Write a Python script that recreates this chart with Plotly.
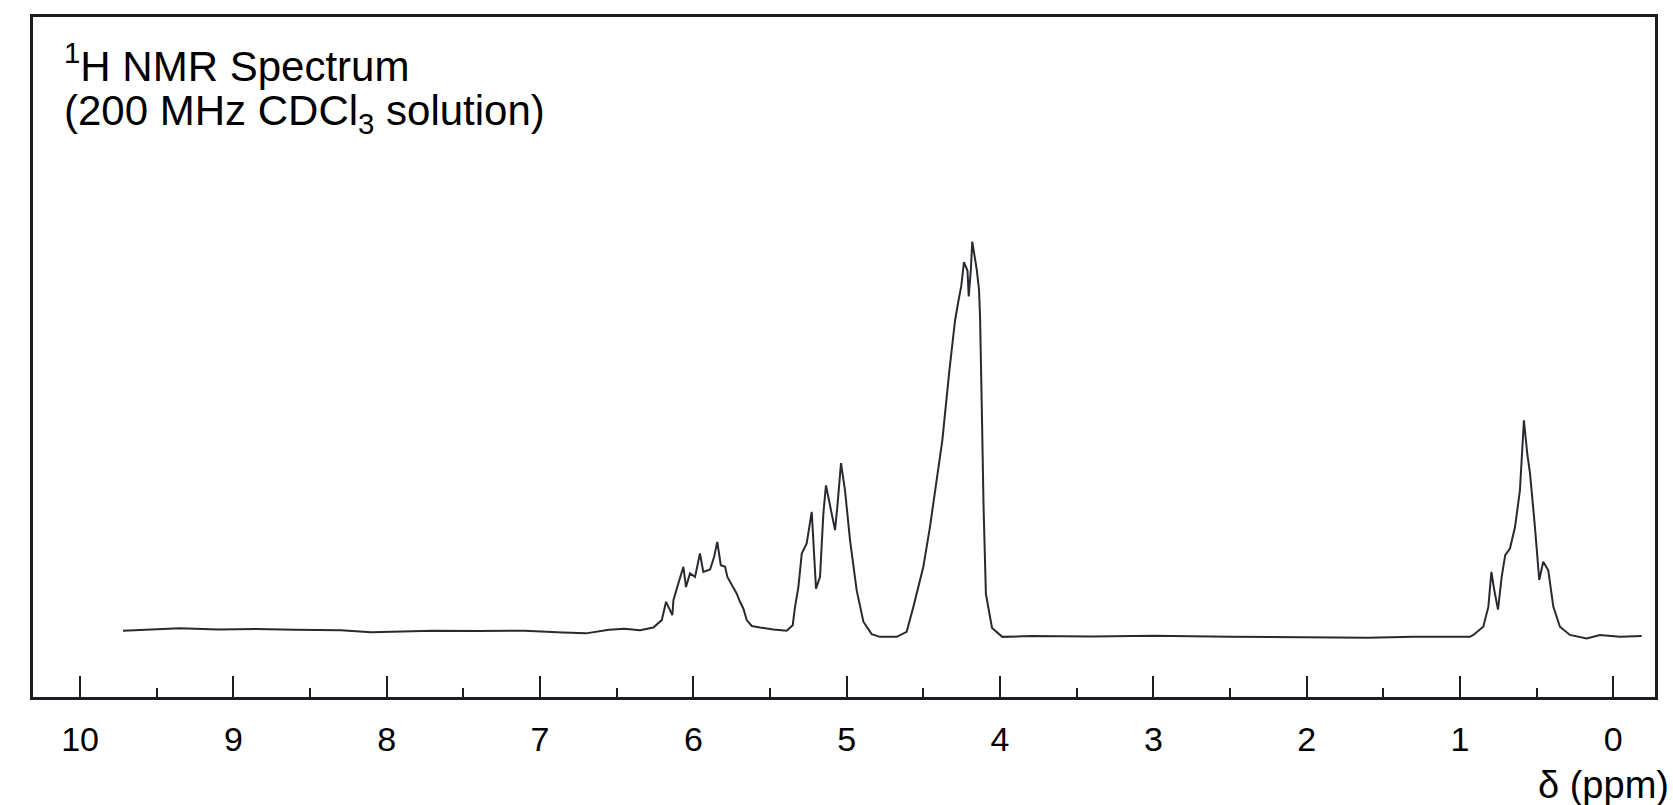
import plotly.graph_objects as go

# ---- data (chemical shift in ppm, relative intensity) ----
baseline_left_ppm = [9.72, 9.55, 9.35, 9.10, 8.85, 8.60, 8.30, 8.10, 7.95, 7.70, 7.40, 7.10, 6.85, 6.70, 6.55, 6.45]
baseline_left_int = [1.4, 1.6, 2.0, 1.7, 1.8, 1.6, 1.5, 1.0, 1.1, 1.4, 1.3, 1.4, 0.9, 0.7, 1.6, 1.9]

multiplet_6_ppm = [6.348, 6.261, 6.206, 6.178, 6.137, 6.130, 6.098, 6.065, 6.048, 6.022, 5.989, 5.957,
                   5.935, 5.891, 5.865, 5.844, 5.821, 5.793, 5.778, 5.739, 5.717, 5.696, 5.674, 5.652,
                   5.619, 5.565, 5.478, 5.391]
multiplet_6_int = [1.5, 2.2, 4.1, 8.8, 5.4, 9.2, 13.5, 17.8, 12.6, 16.1, 15.2, 21.2,
                   16.5, 17.1, 20.3, 24.2, 18.2, 17.8, 15.2, 12.2, 10.9, 8.8, 7.1, 4.1,
                   2.6, 2.2, 1.7, 1.4]

multiplet_5_ppm = [5.352, 5.337, 5.315, 5.293, 5.261, 5.228, 5.218, 5.200, 5.174, 5.152, 5.135,
                   5.109, 5.076, 5.061, 5.037, 5.011, 4.978, 4.935, 4.891, 4.837, 4.783, 4.674]
multiplet_5_int = [2.8, 7.5, 12.6, 21.2, 23.8, 31.9, 24.6, 12.2, 15.2, 31.5, 38.7,
                   33.2, 27.2, 33.2, 44.4, 37.4, 24.6, 11.8, 3.7, 0.5, -0.2, -0.2]

peak_42_ppm = [4.609, 4.565, 4.500, 4.457, 4.376, 4.331, 4.293, 4.270, 4.253, 4.235, 4.212,
               4.204, 4.190, 4.181, 4.152, 4.137, 4.130, 4.119, 4.107, 4.092, 4.052, 3.985]
peak_42_int = [1.1, 7.5, 17.8, 28.0, 50.3, 67.9, 81.1, 86.3, 89.8, 96.0, 93.8,
               87.2, 94.2, 101.3, 94.2, 89.0, 81.9, 59.1, 32.8, 10.8, 2.1, -0.2]

baseline_mid_ppm = [3.80, 3.40, 3.00, 2.50, 2.00, 1.60, 1.30, 1.10, 0.935]
baseline_mid_int = [0.0, -0.1, 0.1, -0.2, -0.3, -0.4, -0.2, -0.3, -0.2]

peak_06_ppm = [0.913, 0.848, 0.815, 0.795, 0.775, 0.752, 0.728, 0.705, 0.674, 0.641, 0.609,
               0.583, 0.561, 0.543, 0.511, 0.483, 0.457, 0.424, 0.391, 0.348, 0.283, 0.174,
               0.087, -0.043, -0.185]
peak_06_int = [0.3, 2.4, 7.5, 16.5, 11.5, 6.8, 15.2, 20.8, 22.5, 28.0, 37.4,
               55.4, 46.8, 41.7, 28.0, 14.4, 19.1, 16.9, 7.5, 2.4, 0.3, -0.6,
               0.3, -0.2, 0.0]

tick_vals = [10, 9, 8, 7, 6, 5, 4, 3, 2, 1, 0]
tick_text = ["10", "9", "8", "7", "6", "5", "4", "3", "2", "1", "0"]

title_line1 = "<sup>1</sup>H NMR Spectrum"
title_line2 = "(200 MHz CDCl<sub>3</sub> solution)"
axis_label = "δ (ppm)"

# ---- assemble trace ----
ppm = (baseline_left_ppm + multiplet_6_ppm + multiplet_5_ppm + peak_42_ppm
       + baseline_mid_ppm + peak_06_ppm)
intensity = (baseline_left_int + multiplet_6_int + multiplet_5_int + peak_42_int
             + baseline_mid_int + peak_06_int)

FONT = "Liberation Sans, Arial, Helvetica, sans-serif"
INK = "#1e1c22"

fig = go.Figure()
fig.add_trace(go.Scatter(x=ppm, y=intensity, mode="lines",
                         line=dict(color="#2c2830", width=2),
                         hoverinfo="x+y", showlegend=False))

fig.update_layout(
    width=1673, height=805,
    margin=dict(l=33, r=18, t=17, b=108),
    paper_bgcolor="white", plot_bgcolor="white",
    font=dict(family=FONT, color="black"),
    showlegend=False,
)

fig.update_xaxes(
    range=[10.307, -0.272],
    showline=True, linecolor=INK, linewidth=2.6, mirror=True,
    showgrid=False, zeroline=False,
    ticks="inside", ticklen=21, tickwidth=2.4, tickcolor=INK,
    tickvals=tick_vals, ticktext=tick_text,
    tickfont=dict(family=FONT, size=34, color="black"),
    ticklabelstandoff=10,
    minor=dict(dtick=0.5, tick0=0, ticks="inside", ticklen=9, tickwidth=2.2, tickcolor=INK),
)
fig.update_yaxes(
    range=[-15.64, 158.97],
    showline=True, linecolor=INK, linewidth=2.6, mirror=True,
    showgrid=False, zeroline=False,
    ticks="", showticklabels=False,
)

fig.add_annotation(text=title_line1, xref="paper", yref="paper",
                   x=0.0179, y=0.9325, xanchor="left", yanchor="middle",
                   showarrow=False, font=dict(family=FONT, size=42, color="black"))
fig.add_annotation(text=title_line2, xref="paper", yref="paper",
                   x=0.0179, y=0.8575, xanchor="left", yanchor="middle",
                   showarrow=False, font=dict(family=FONT, size=42, color="black"))
fig.add_annotation(text=axis_label, xref="paper", yref="paper",
                   x=0.9685, y=-0.1300, xanchor="center", yanchor="middle",
                   showarrow=False, font=dict(family=FONT, size=38, color="black"))

fig.write_html("out.html", config={"displayModeBar": False},
               post_script="document.body.style.margin='0';")
